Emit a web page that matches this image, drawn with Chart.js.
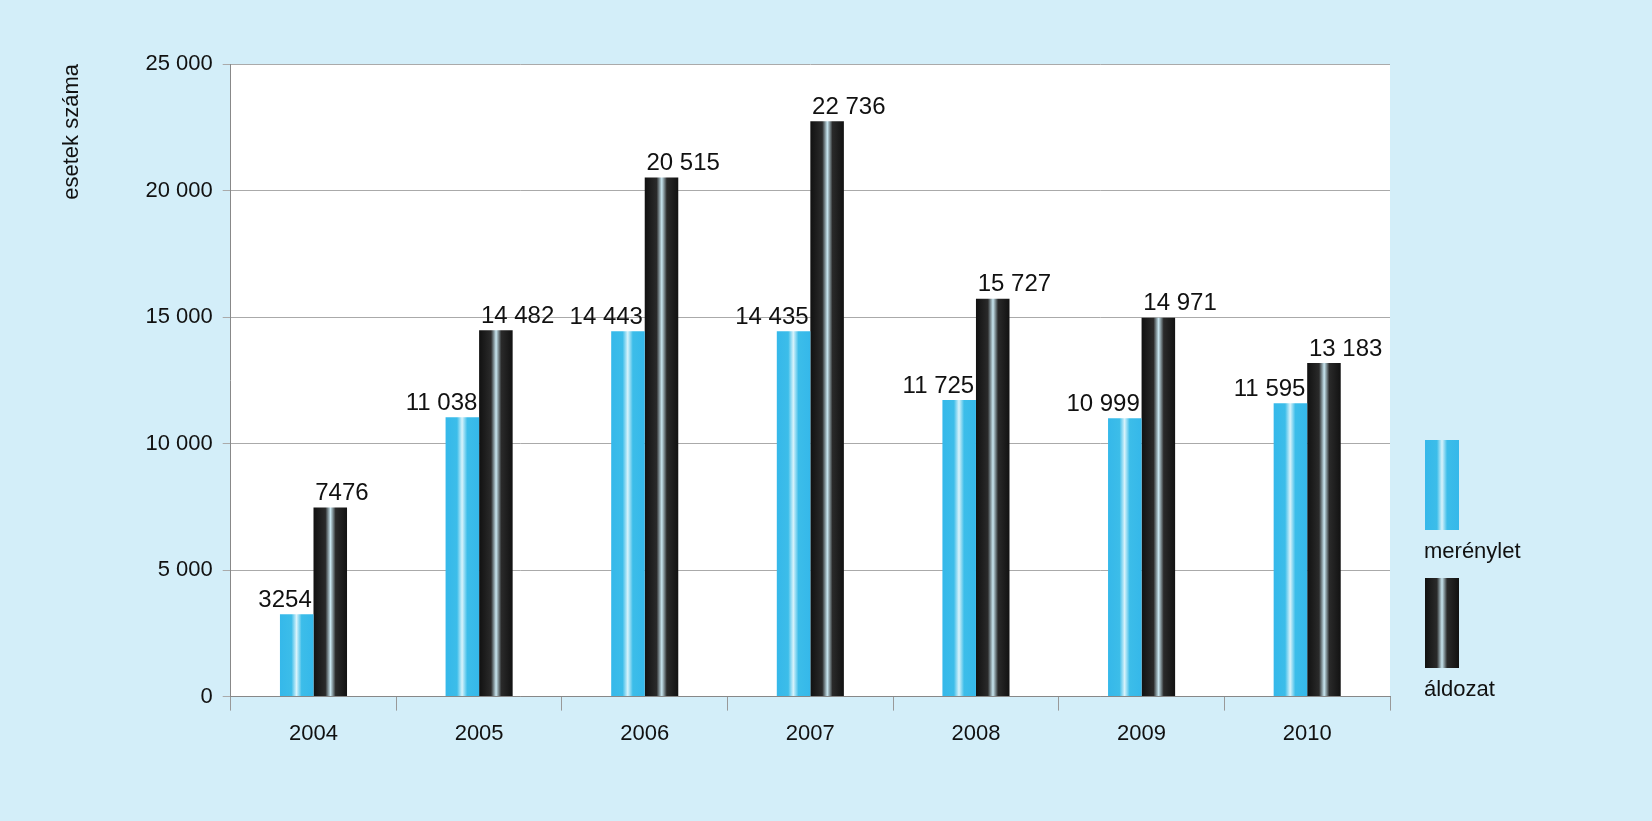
<!DOCTYPE html>
<html><head><meta charset="utf-8">
<script src="https://cdn.jsdelivr.net/npm/chart.js@4/dist/chart.umd.min.js"></script>
<style>
body{margin:0;background:#d3eef9;font-family:"Liberation Sans",Arial,sans-serif;}
#wrap{position:absolute;left:0;top:0;width:1652px;height:821px;}
.leg{position:absolute;left:1425px;width:34px;height:90px;}
.lt{position:absolute;left:1424px;font-size:22px;color:#111;}
</style></head><body>
<div id="wrap"><canvas id="c" width="1652" height="821"></canvas></div>
<div class="leg" style="top:440px;background:linear-gradient(90deg,#35b8ea,#3cbde9 35%,#d8f3fb 50%,#3cbde9 65%,#35b8ea)"></div>
<div class="lt" style="top:538px">merénylet</div>
<div class="leg" style="top:578px;background:linear-gradient(90deg,#111,#2a2a2a 35%,#c8e6f0 50%,#2a2a2a 65%,#111)"></div>
<div class="lt" style="top:676px">áldozat</div>
<script>
// Data
const years = ['2004', '2005', '2006', '2007', '2008', '2009', '2010'];
const attacks = [3254, 11038, 14443, 14435, 11725, 10999, 11595];
const victims = [7476, 14482, 20515, 22736, 15727, 14971, 13183];

const fmt = v => v < 10000 && v > 0 && v % 5000 !== 0 ? String(v) : v.toLocaleString('en-US').replace(/,/g, ' ');

function barFill(edge, mid, light, fallback, shift) {
    return (ctx) => {
        const chart = ctx.chart;
        if (!chart.chartArea) return fallback;
        const xs = chart.scales.x;
        const c = xs.getPixelForValue(ctx.dataIndex) + shift;
        const g = chart.ctx.createLinearGradient(c - 17, 0, c + 17, 0);
        g.addColorStop(0, edge);
        g.addColorStop(0.35, mid);
        g.addColorStop(0.5, light);
        g.addColorStop(0.65, mid);
        g.addColorStop(1, edge);
        return g;
    };
}

const labelPlugin = {
    id: 'labels',
    afterDatasetsDraw(chart) {
        const ctx = chart.ctx;
        ctx.save();
        ctx.font = '24px "Liberation Sans", Arial';
        ctx.fillStyle = '#111';
        ctx.textBaseline = 'bottom';
        chart.data.datasets.forEach((ds, i) => {
            chart.getDatasetMeta(i).data.forEach((bar, j) => {
                // cyan labels end near the bar's right edge, black ones start near its left edge
                ctx.textAlign = i === 0 ? 'right' : 'left';
                const x = i === 0 ? bar.x + 15 : bar.x - 15;
                ctx.fillText(fmt(ds.data[j]), x, bar.y - 2);
            });
        });
        ctx.restore();
    }
};

const bgPlugin = {
    id: 'bg',
    beforeDraw(chart) {
        const a = chart.chartArea;
        chart.ctx.fillStyle = '#fff';
        chart.ctx.fillRect(a.left, a.top, a.right - a.left, a.bottom - a.top);
    }
};

Chart.defaults.font.family = '"Liberation Sans", Arial';
Chart.defaults.font.size = 22;
Chart.defaults.color = '#111';

new Chart(document.getElementById('c'), {
    type: 'bar',
    data: {
        labels: years,
        datasets: [
            { label: 'merénylet', data: attacks, backgroundColor: barFill('#35b8ea', '#3cbde9', '#d8f3fb', '#3cbde9', -17) },
            { label: 'áldozat', data: victims, backgroundColor: barFill('#111', '#2a2a2a', '#c8e6f0', '#222', 17) }
        ]
    },
    options: {
        responsive: false,
        animation: false,
        layout: { padding: { left: 55, right: 262, top: 64, bottom: 64 } },
        plugins: { legend: { display: false }, tooltip: { enabled: false } },
        datasets: { bar: { categoryPercentage: 0.405, barPercentage: 1 } },
        scales: {
            x: {
                grid: { offset: true, drawOnChartArea: false, tickLength: 14, color: '#999' },
                border: { color: '#888' },
                ticks: { padding: 10 }
            },
            y: {
                min: 0, max: 25000,
                ticks: { stepSize: 5000, callback: v => fmt(v), padding: 10 },
                grid: { color: '#aaa', tickLength: 8 },
                border: { color: '#888' },
                title: { display: true, text: 'esetek száma', align: 'end', padding: { bottom: 50 } }
            }
        }
    },
    plugins: [bgPlugin, labelPlugin]
});
</script>
</body></html>
